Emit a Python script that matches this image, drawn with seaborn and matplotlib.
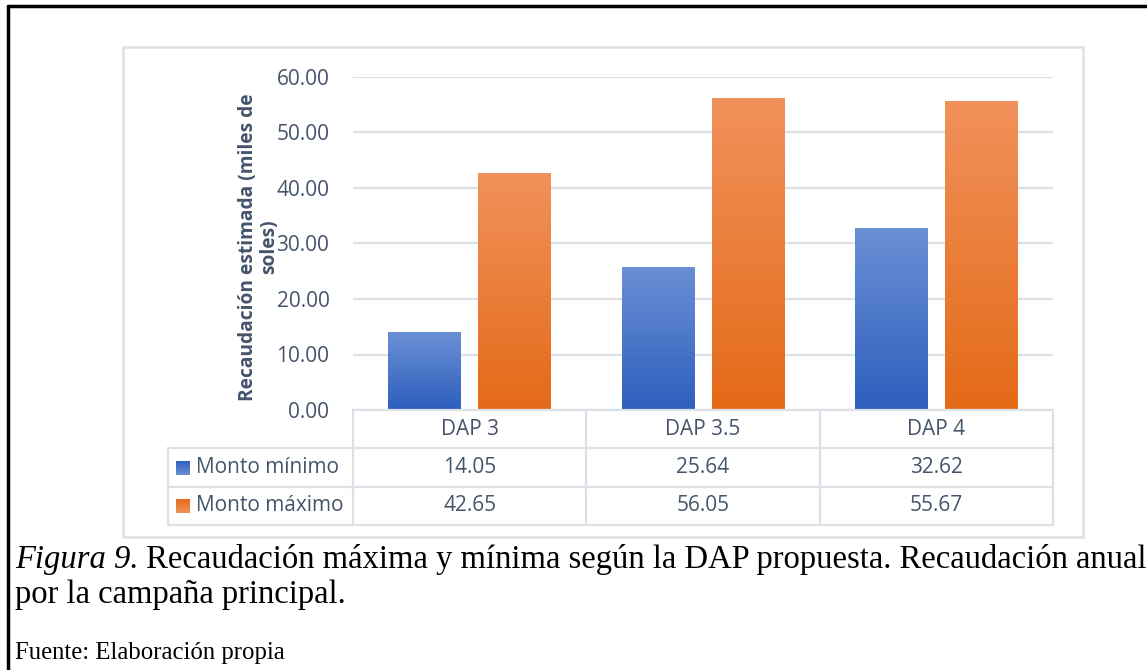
import numpy as np
import pandas as pd
import seaborn as sns
import matplotlib.pyplot as plt
from matplotlib.lines import Line2D
from matplotlib.patches import Rectangle
from matplotlib.colors import LinearSegmentedColormap

# datos
categorias = ["DAP 3", "DAP 3.5", "DAP 4"]
series = ["Monto mínimo", "Monto máximo"]
monto_minimo = [14.05, 25.64, 32.62]
monto_maximo = [42.65, 56.05, 55.67]
yticks = [0, 10, 20, 30, 40, 50, 60]

df = pd.DataFrame({
    "dap": categorias * 2,
    "serie": [series[0]] * 3 + [series[1]] * 3,
    "monto": monto_minimo + monto_maximo,
})

azul = "#4472C4"
naranja = "#ED7D31"
grad = {
    azul: LinearSegmentedColormap.from_list("az", ["#2D5FBD", "#6B8FD5"]),
    naranja: LinearSegmentedColormap.from_list("na", ["#E46A17", "#F1915B"]),
}
texto = "#44546A"
linea = "#DCE1E8"

W, H = 1147, 670
sns.set_theme(style="white")
plt.rcParams["font.family"] = ["Open Sans", "DejaVu Sans"]

fig = plt.figure(figsize=(W / 100, H / 100), dpi=100)


def px(x0, y0, x1, y1):
    # caja en pixeles -> fraccion de figura
    return [x0 / W, 1 - y1 / H, (x1 - x0) / W, (y1 - y0) / H]


# marco del documento
fig.add_artist(Line2D([8 / W, 1], [1 - 6 / H, 1 - 6 / H], color="black", lw=2.5))
fig.add_artist(Line2D([8 / W, 8 / W], [0, 1 - 6 / H], color="black", lw=2.5))
# marco del grafico
fig.add_artist(Rectangle((123 / W, 1 - 537 / H), 960 / W, 490 / H, fill=False,
                         ec=linea, lw=1.8))

ax = fig.add_axes(px(353, 77, 1053, 410))
sns.barplot(data=df, x="dap", y="monto", hue="serie", hue_order=series,
            palette=[azul, naranja], width=0.77, gap=0.19, saturation=1,
            errorbar=None, legend=False, ax=ax)

# relleno degradado en cada barra
g = np.linspace(0, 1, 256).reshape(-1, 1)
for p in list(ax.patches):
    h = p.get_height()
    if h <= 0:
        continue
    fc = "#%02X%02X%02X" % tuple(int(round(c * 255)) for c in p.get_facecolor()[:3])
    cmap = grad[azul] if fc == azul.upper() else grad[naranja]
    ax.imshow(g, extent=[p.get_x(), p.get_x() + p.get_width(), 0, h],
              origin="lower", aspect="auto", cmap=cmap, zorder=3)
    p.set_visible(False)

ax.set_xlim(-0.5, 2.5)
ax.set_ylim(0, 60)
ax.set_yticks(yticks)
ax.set_yticklabels([f"{v:.2f}" for v in yticks])
ax.tick_params(axis="y", length=0, pad=17, labelsize=15, labelcolor=texto)
ax.set_xticks([])
ax.set_xlabel("")
ax.yaxis.grid(True, color=linea, lw=1.6)
ax.set_axisbelow(True)
for s in ax.spines.values():
    s.set_visible(False)
ax.set_ylabel("Recaudación estimada (miles de\nsoles)", fontsize=13.8,
              fontweight="bold", color=texto, multialignment="center",
              linespacing=1.05)
ax.yaxis.set_label_coords(-0.106, 0.49)

# tabla de datos
tax = fig.add_axes(px(168, 410, 1053, 525))
cw = 700 / 3
izq = -0.5 - 185 / cw
tax.set_xlim(izq, 2.5)
tax.set_ylim(3, 0)
tax.axis("off")
kw = dict(color=linea, lw=1.6, clip_on=False)
tax.plot([-0.5, 2.5], [0, 0], **kw)
for r in [1, 2, 3]:
    tax.plot([izq, 2.5], [r, r], **kw)
tax.plot([izq, izq], [1, 3], **kw)
for c in [-0.5, 0.5, 1.5, 2.5]:
    tax.plot([c, c], [0, 3], **kw)

for i, cat in enumerate(categorias):
    tax.text(i, 0.5, cat, ha="center", va="center", fontsize=15, color=texto)
    tax.text(i, 1.5, f"{monto_minimo[i]:.2f}", ha="center", va="center",
             fontsize=15, color=texto)
    tax.text(i, 2.5, f"{monto_maximo[i]:.2f}", ha="center", va="center",
             fontsize=15, color=texto)

fila = 115 / 3
for r, (nombre, col) in enumerate(zip(series, [azul, naranja])):
    y0 = r + 1.5
    hh = 14 / fila
    tax.imshow(g, extent=[izq + 8 / cw, izq + 22 / cw, y0 + hh / 2, y0 - hh / 2],
               origin="upper", aspect="auto", cmap=grad[col], zorder=3)
    tax.text(izq + 28 / cw, y0, nombre, ha="left", va="center", fontsize=15,
             color=texto)
tax.set_xlim(izq, 2.5)
tax.set_ylim(3, 0)

# pie de figura
serif = ["Liberation Serif", "DejaVu Serif"]
t1 = fig.text(15 / W, 1 - 568 / H, "Figura 9.", family=serif, style="italic",
              fontsize=23.5, va="baseline", color="black")
fig.canvas.draw()
bb = t1.get_window_extent(renderer=fig.canvas.get_renderer())
fig.text(bb.x1 / W, 1 - 568 / H,
         " Recaudación máxima y mínima según la DAP propuesta. Recaudación anual",
         family=serif, fontsize=23.5, va="baseline", color="black")
fig.text(15 / W, 1 - 603 / H, "por la campaña principal.", family=serif,
         fontsize=23.5, va="baseline", color="black")
fig.text(15 / W, 1 - 659 / H, "Fuente: Elaboración propia", family=serif,
         fontsize=17.8, va="baseline", color="black")

fig.savefig("out.png", dpi=100, facecolor="white")
